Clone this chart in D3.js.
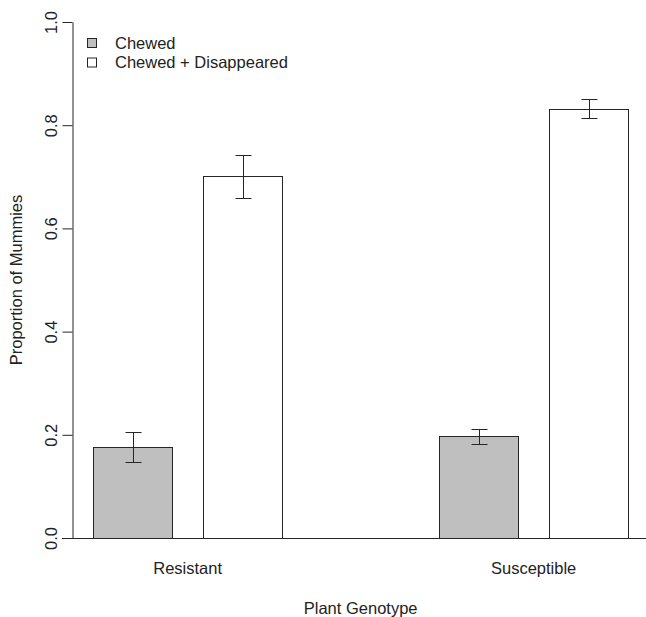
<!DOCTYPE html>
<html>
<head>
<meta charset="utf-8">
<script src="https://cdn.jsdelivr.net/npm/d3@7"></script>
<style>
  body { margin: 0; background: #fff; }
  text { font-family: "Liberation Sans", Arial, sans-serif; fill: #222; }
</style>
</head>
<body>
<script>
var genotypes = ["Resistant", "Susceptible"];
var series = ["Chewed", "Chewed + Disappeared"];
var seriesFill = ["#bfbfbf", "#ffffff"];

// mean, lower and upper end of the error bar, one entry per genotype
var chewed = [0.176, 0.197];
var chewedLow = [0.147, 0.183];
var chewedHigh = [0.205, 0.211];
var disappeared = [0.701, 0.831];
var disappearedLow = [0.658, 0.813];
var disappearedHigh = [0.743, 0.850];

var yTicks = [0, 0.2, 0.4, 0.6, 0.8, 1.0];

var width = 646, height = 617;
var stroke = "#262626";

var svg = d3.select("body").append("svg")
    .attr("width", width)
    .attr("height", height);

var y = d3.scaleLinear().domain([0, 1]).range([538, 22]);

var x0 = d3.scaleBand()
    .domain(genotypes)
    .range([93.3, 628])
    .paddingInner(0.4545)
    .paddingOuter(0);

var x1 = d3.scaleBand()
    .domain(series)
    .range([0, x0.bandwidth()])
    .paddingInner(0.2857)
    .paddingOuter(0);

// rows: one per bar
var rows = [];
genotypes.forEach(function (g, i) {
  rows.push({ g: g, s: series[0], v: chewed[i], lo: chewedLow[i], hi: chewedHigh[i], fill: seriesFill[0] });
  rows.push({ g: g, s: series[1], v: disappeared[i], lo: disappearedLow[i], hi: disappearedHigh[i], fill: seriesFill[1] });
});

// bars
svg.append("g")
    .selectAll("rect")
    .data(rows)
    .enter().append("rect")
    .attr("x", function (d) { return Math.round(x0(d.g) + x1(d.s)) + 0.5; })
    .attr("y", function (d) { return Math.round(y(d.v)) + 0.5; })
    .attr("width", Math.round(x1.bandwidth()))
    .attr("height", function (d) { return Math.round(y(0)) - Math.round(y(d.v)); })
    .attr("fill", function (d) { return d.fill; })
    .attr("stroke", stroke)
    .attr("stroke-width", 1);

// baseline across the plot
svg.append("line")
    .attr("x1", 62).attr("x2", width)
    .attr("y1", Math.round(y(0)) + 0.5).attr("y2", Math.round(y(0)) + 0.5)
    .attr("stroke", stroke);

// error bars
var cap = 8;
var err = svg.append("g")
    .attr("stroke", stroke)
    .attr("fill", "none")
    .selectAll("path")
    .data(rows)
    .enter().append("path")
    .attr("d", function (d) {
      var cx = Math.round(x0(d.g) + x1(d.s) + x1.bandwidth() / 2) + 0.5;
      var t = Math.round(y(d.hi)) + 0.5, b = Math.round(y(d.lo)) + 0.5;
      return "M" + (cx - cap) + "," + t + "H" + (cx + cap)
          + "M" + cx + "," + t + "V" + b
          + "M" + (cx - cap) + "," + b + "H" + (cx + cap);
    });

// y axis
var yAxis = svg.append("g")
    .attr("transform", "translate(72.5,0)")
    .call(d3.axisLeft(y).tickValues(yTicks).tickFormat(d3.format(".1f")).tickSize(10).tickSizeOuter(0));
yAxis.select(".domain").attr("stroke", stroke);
yAxis.selectAll(".tick line").attr("stroke", stroke);
yAxis.selectAll(".tick text")
    .attr("x", 0).attr("dy", null).attr("y", 0)
    .attr("transform", "translate(-15.5,0) rotate(-90)")
    .attr("text-anchor", "middle")
    .attr("font-size", 16.5)
    .attr("font-family", "Liberation Sans, Arial, sans-serif")
    .attr("fill", "#222");

svg.append("text")
    .attr("transform", "translate(22," + ((y(0) + y(1)) / 2) + ") rotate(-90)")
    .attr("text-anchor", "middle")
    .attr("font-size", 16.5)
    .text("Proportion of Mummies");

// category labels
svg.append("g")
    .selectAll("text")
    .data(genotypes)
    .enter().append("text")
    .attr("x", function (d) { return x0(d) + x0.bandwidth() / 2; })
    .attr("y", 574)
    .attr("text-anchor", "middle")
    .attr("font-size", 16.5)
    .text(function (d) { return d; });

svg.append("text")
    .attr("x", (x0.range()[0] + x0.range()[1]) / 2)
    .attr("y", 614)
    .attr("text-anchor", "middle")
    .attr("font-size", 16.5)
    .text("Plant Genotype");

// legend
var legend = svg.append("g")
    .selectAll("g")
    .data(series)
    .enter().append("g")
    .attr("transform", function (d, i) { return "translate(0," + (i * 19.5) + ")"; });

legend.append("rect")
    .attr("x", 87.5).attr("y", 38.5)
    .attr("width", 9).attr("height", 9)
    .attr("fill", function (d, i) { return seriesFill[i]; })
    .attr("stroke", stroke);

legend.append("text")
    .attr("x", 115).attr("y", 48.5)
    .attr("font-size", 16.5)
    .text(function (d) { return d; });
</script>
</body>
</html>
